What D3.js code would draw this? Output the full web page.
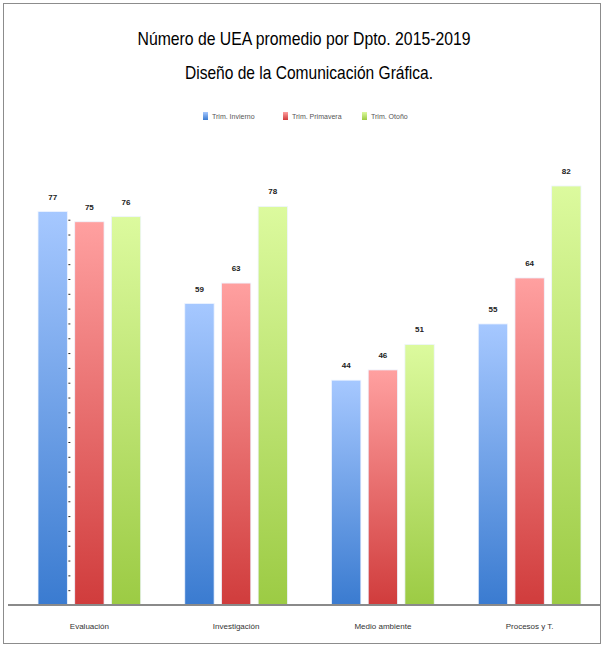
<!DOCTYPE html>
<html>
<head>
<meta charset="utf-8">
<script src="https://cdn.jsdelivr.net/npm/d3@7"></script>
<style>
  body { margin: 0; background: #fff; }
  text { font-family: "Liberation Sans Narrow", "Liberation Sans", sans-serif; }
</style>
</head>
<body>
<div id="chart"></div>
<script>
const categories = ["Evaluación", "Investigación", "Medio ambiente", "Procesos y T."];
const series = ["Trim. Invierno", "Trim. Primavera", "Trim. Otoño"];
const invierno = [77, 59, 44, 55];
const primavera = [75, 63, 46, 64];
const otono = [76, 78, 51, 82];
const values = [invierno, primavera, otono];

const width = 605;
const height = 647;
const baseline = 605;

const svg = d3.select("#chart").append("svg")
  .attr("width", width)
  .attr("height", height);

// frame
svg.append("rect")
  .attr("x", 3.5).attr("y", 3.5)
  .attr("width", 597).attr("height", 640)
  .attr("fill", "#fff")
  .attr("stroke", "#8c8c8c");

const colors = [
  { top: "#a6c8ff", bottom: "#3a7bd0" },
  { top: "#ffa0a0", bottom: "#d03c3c" },
  { top: "#dcfa9e", bottom: "#9ccb44" }
];

const defs = svg.append("defs");
colors.forEach((c, i) => {
  const g = defs.append("linearGradient")
    .attr("id", "grad" + i)
    .attr("x1", 0).attr("y1", 0).attr("x2", 0).attr("y2", 1);
  g.append("stop").attr("offset", "0%").attr("stop-color", c.top);
  g.append("stop").attr("offset", "100%").attr("stop-color", c.bottom);
});

// title
svg.append("text")
  .attr("x", 304).attr("y", 45)
  .attr("text-anchor", "middle")
  .attr("font-size", 19)
  .attr("textLength", 333)
  .attr("lengthAdjust", "spacingAndGlyphs")
  .text("Número de UEA promedio por  Dpto. 2015-2019");

svg.append("text")
  .attr("x", 309).attr("y", 79)
  .attr("text-anchor", "middle")
  .attr("font-size", 19)
  .attr("textLength", 248)
  .attr("lengthAdjust", "spacingAndGlyphs")
  .text("Diseño de la Comunicación Gráfica.");

// legend
const legendX = [203, 283, 362];
const legend = svg.append("g").attr("class", "legend");
series.forEach((s, i) => {
  legend.append("rect")
    .attr("x", legendX[i]).attr("y", 112)
    .attr("width", 5).attr("height", 8)
    .attr("fill", "url(#grad" + i + ")");
  legend.append("text")
    .attr("x", legendX[i] + 9).attr("y", 119)
    .attr("font-size", 7)
    .attr("fill", "#555")
    .text(s);
});

const x0 = d3.scaleBand()
  .domain(categories)
  .range([16, 603])
  .paddingInner(0.3)
  .paddingOuter(0.15);

const x1 = d3.scaleBand()
  .domain(d3.range(series.length))
  .range([0, x0.bandwidth()])
  .paddingInner(0.2);

const y = d3.scaleLinear()
  .domain([0, 100])
  .range([baseline, baseline - 511]);

const groups = svg.append("g").selectAll("g")
  .data(categories)
  .join("g")
  .attr("transform", d => `translate(${x0(d)},0)`);

groups.selectAll("rect")
  .data((d, ci) => values.map((v, si) => ({ si, v: v[ci] })))
  .join("rect")
  .attr("x", d => x1(d.si))
  .attr("y", d => y(d.v))
  .attr("width", x1.bandwidth())
  .attr("height", d => baseline - y(d.v))
  .attr("fill", d => "url(#grad" + d.si + ")")
  .attr("stroke", "#eef4ff")
  .attr("stroke-width", 0.8);

groups.selectAll(".valorDato")
  .data((d, ci) => values.map((v, si) => ({ si, v: v[ci] })))
  .join("text")
  .attr("class", "valorDato")
  .attr("x", d => x1(d.si) + x1.bandwidth() / 2)
  .attr("y", d => y(d.v) - 12)
  .attr("text-anchor", "middle")
  .attr("font-size", 8)
  .attr("font-weight", "bold")
  .attr("fill", "#222")
  .text(d => d.v);

// small axis ticks next to first bar
const axisY = svg.append("g")
  .attr("transform", `translate(${x0(categories[0]) + x1.bandwidth() + 1},0)`)
  .call(d3.axisRight(y).tickValues(d3.range(0, 76, 2.9)).tickSize(2).tickFormat(""));
axisY.select(".domain").remove();
axisY.selectAll("line").attr("stroke", "#222");

// baseline axis
const axisX = svg.append("g")
  .attr("transform", `translate(0,${baseline})`)
  .call(d3.axisBottom(x0).tickSize(0).tickPadding(18));
axisX.select(".domain")
  .attr("d", `M8,0H601`)
  .attr("stroke", "#8a8a8a")
  .attr("stroke-width", 2);
axisX.selectAll("text")
  .attr("font-size", 8)
  .attr("fill", "#333")
  .style("font-family", "'Liberation Sans Narrow', 'Liberation Sans', sans-serif");
</script>
</body>
</html>
